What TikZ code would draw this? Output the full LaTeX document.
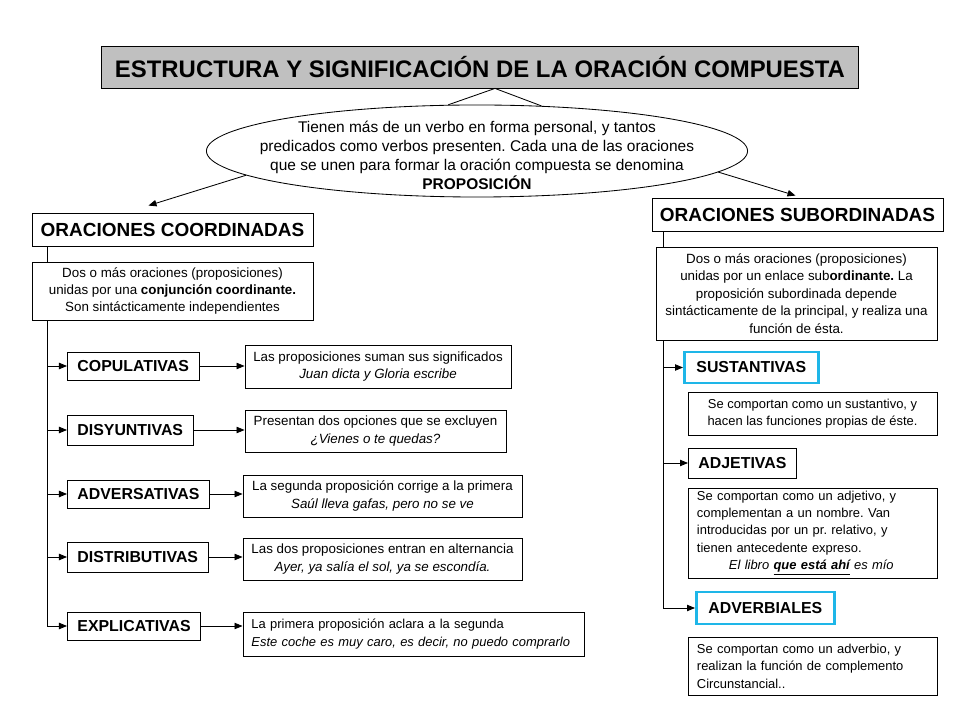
\documentclass[tikz,border=0pt]{standalone}
\usepackage{fontspec}
\setmainfont{Liberation Sans}
\usetikzlibrary{arrows.meta,shapes.geometric,backgrounds}
\definecolor{celeste}{RGB}{30,182,232}
\definecolor{grisT}{RGB}{192,192,192}
% font size and line spacing in one go
\newcommand{\fnt}[2]{\fontsize{#1}{#2}\selectfont}
\frenchspacing

\begin{document}
\begin{tikzpicture}[x=0.025cm,y=-0.025cm,
  caja/.style={draw, line width=0.6pt, fill=white, inner sep=0pt, align=center},
  cat/.style={caja, anchor=west, inner xsep=0.25cm, font=\bfseries\fnt{11.3}{13}},
  desc/.style={caja, font=\fnt{9.5}{12.4}},
  azul/.style={draw=celeste, line width=2pt},
  flecha/.style={-{Triangle[length=2mm,width=1.6mm]}, line width=0.6pt}]
  \useasboundingbox (0,0) rectangle (960,720);

  % title and definition
  \node[caja, fill=grisT, minimum width=18.9cm, minimum height=1.05cm,
    font=\bfseries\fnt{17}{20}] (titulo) at (480,67)
    {ESTRUCTURA Y SIGNIFICACIÓN DE LA ORACIÓN COMPUESTA};
  \node[ellipse, draw, line width=0.6pt, fill=white, minimum width=13.525cm,
    minimum height=2.3cm] (elipse) at (477,151) {};
  \node[align=center, font=\fnt{11}{13.5}] (definicion) at (477,155)
    {Tienen más de un verbo en forma personal, y tantos\\
     predicados como verbos presenten. Cada una de las oraciones\\
     que se unen para formar la oración compuesta se denomina\\
     \textbf{PROPOSICIÓN}};
  \coordinate (pico) at ([xshift=0.375cm]titulo.south);
  \draw[line width=0.6pt] (elipse.122) -- (pico) -- (elipse.35);

  % left column
  \node[caja, minimum width=7.025cm, minimum height=0.825cm,
    font=\bfseries\fnt{13.5}{15}] (coord) at (172.5,229.5) {ORACIONES COORDINADAS};
  \node[desc, minimum width=7.025cm, minimum height=1.45cm] (dcoord) at (172.5,291)
    {Dos o más oraciones (proposiciones)\\
     unidas por una \textbf{conjunción coordinante.}\\
     Son sintácticamente independientes};
  \node[cat, minimum height=0.7cm] (cop) at (67,366) {COPULATIVAS};
  \node[cat, minimum height=0.75cm] (dis) at (67,430) {DISYUNTIVAS};
  \node[cat, minimum height=0.7cm] (adv) at (67,494) {ADVERSATIVAS};
  \node[cat, minimum height=0.75cm] (dist) at (67,557) {DISTRIBUTIVAS};
  \node[cat, minimum height=0.7cm] (expl) at (67,626) {EXPLICATIVAS};

  \node[desc, minimum width=6.65cm, minimum height=1.075cm] (d1) at (378,366.5)
    {Las proposiciones suman sus significados\\ \textit{Juan dicta y Gloria escribe}};
  \node[desc, minimum width=6.525cm, minimum height=1.05cm] (d2) at (375.5,431)
    {Presentan dos opciones que se excluyen\\ \textit{¿Vienes o te quedas?}};
  \node[desc, minimum width=6.975cm, minimum height=1.05cm] (d3) at (382.5,496)
    {La segunda proposición corrige a la primera\\ \textit{Saúl lleva gafas, pero no se ve}};
  \node[desc, minimum width=6.975cm, minimum height=1.05cm] (d4) at (382.5,559)
    {Las dos proposiciones entran en alternancia\\ \textit{Ayer, ya salía el sol, ya se escondía.}};
  \node[desc, font=\fnt{9.2}{12.4}, align=left, text width=8.1cm, minimum width=8.525cm,
    minimum height=1.1cm] (d5) at (413.5,634)
    {La primera proposición aclara a la segunda\\
     \textit{Este coche es muy caro, es decir, no puedo comprarlo}};

  % right column
  \node[caja, minimum width=7.275cm, minimum height=0.825cm,
    font=\bfseries\fnt{13.5}{15}] (sub) at (797.5,214.5) {ORACIONES SUBORDINADAS};
  \node[desc, minimum width=7.025cm, minimum height=2.325cm] (dsub) at (796.5,293.5)
    {Dos o más oraciones (proposiciones)\\
     unidas por un enlace sub\textbf{ordinante.} La\\
     proposición subordinada depende\\
     sintácticamente de la principal, y realiza una\\
     función de ésta.};
  \node[cat, azul, inner xsep=0.3cm, minimum height=0.775cm] (sust) at (683,367.5) {SUSTANTIVAS};
  \node[desc, font=\fnt{9.2}{12.4}, minimum width=6.225cm, minimum height=1.075cm]
    (dsust) at (812.5,413.5)
    {Se comportan como un sustantivo, y\\ hacen las funciones propias de éste.};
  \node[cat, minimum height=0.75cm] (adj) at (688,463) {ADJETIVAS};
  \node[desc, font=\fnt{9.2}{12.4}, align=left, text width=5.775cm, minimum width=6.225cm,
    minimum height=2.25cm] (dadj) at (812.5,533)
    {Se comportan como un adjetivo, y\\
     complementan a un nombre. Van\\
     introducidas por un pr. relativo, y\\
     tienen antecedente expreso.\\
     \hspace*{0.8cm}\textit{El libro \underline{\textbf{que está ahí}} es mío}};
  \node[cat, azul, inner xsep=0.3cm, minimum height=0.8cm] (advb) at (695,608) {ADVERBIALES};
  \node[desc, font=\fnt{9.2}{12.4}, align=left, text width=5.775cm, minimum width=6.225cm,
    minimum height=1.45cm] (dadvb) at (812.5,666)
    {Se comportan como un adverbio, y\\
     realizan la función de complemento\\
     Circunstancial..};

  % connectors
  \draw[flecha] (elipse.186) -- ([xshift=-0.6cm,yshift=0.175cm]coord.north);
  \draw[flecha] (elipse.355) -- ([xshift=-0.05cm,yshift=0.05cm]sub.north);
  \coordinate (ejeI) at ([xshift=0.4cm]coord.south west);
  \coordinate (ejeD) at ([xshift=0.3cm]sub.south west);
  \begin{scope}[on background layer]
    \draw[flecha] (ejeI) |- (expl.west);
    \draw[flecha] (ejeD) |- (advb.west);
  \end{scope}
  \foreach \c in {cop,dis,adv,dist}
    \draw[flecha] (ejeI |- \c.west) -- (\c.west);
  \draw[flecha] (ejeD |- sust.west) -- (sust.west);
  \draw[flecha] (ejeD |- adj.west) -- (adj.west);
  \draw[flecha] (cop.east) -- (cop.east -| d1.west);
  \draw[flecha] (dis.east) -- (dis.east -| d2.west);
  \draw[flecha] (adv.east) -- (adv.east -| d3.west);
  \draw[flecha] (dist.east) -- (dist.east -| d4.west);
  \draw[flecha] (expl.east) -- (expl.east -| d5.west);
\end{tikzpicture}
\end{document}
